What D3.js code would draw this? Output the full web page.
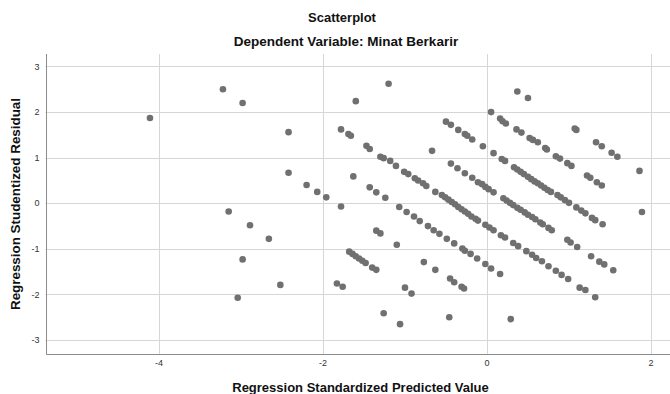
<!DOCTYPE html>
<html>
<head>
<meta charset="utf-8">
<script src="https://cdn.jsdelivr.net/npm/d3@7"></script>
<style>
    body { margin: 0; background: #fff; }
    svg { display: block; font-family: "Liberation Sans", Arial, sans-serif; }
</style>
</head>
<body>
<div class="scatterChart"></div>
<script>
    // standardized predicted value (x) and studentized residual (y)
    const predValue = [
        -4.11, -3.22, -2.98, -2.42, -2.42, -2.20, -2.07, -1.96, -1.78, -3.15,
        -2.89, -2.66, -2.98, -2.52, -1.83, -1.76, -3.04, -1.78, -1.69, -1.66,
        -1.60, -1.20, -1.47, -1.43, -1.63, -1.43, -1.35, -1.24, -0.67,
        // long diagonal band
        -1.30, -1.26, -1.18, -1.11, -1.01, -0.96, -0.88, -0.84, -0.78, -0.74,
        -0.63, -0.55, -0.51, -0.47, -0.43, -0.39, -0.35, -0.31, -0.27, -0.23,
        -0.19, -0.14, -0.11, -0.02, 0.03, 0.08, 0.17, 0.22, 0.32, 0.38,
        0.48, 0.55, 0.60, 0.67, 0.75, 0.84, 0.91, 0.99,
        -0.44, -0.36, -0.27, -0.18, -0.11, -0.06, -0.02, 0.02, 0.08, 0.20,
        0.24, 0.28, 0.32, 0.37, 0.41, 0.46, 0.50, 0.55, 0.59, 0.65,
        0.68, 0.75, 0.79, 0.98, 1.02, 1.10,
        -0.50, -0.44, -0.35, -0.27, -0.24, -0.18, -0.05, 0.08, 0.18, 0.22,
        0.33, 0.37, 0.41, 0.45, 0.50, 0.54, 0.58, 0.62, 0.66, 0.70,
        0.74, 0.78, 0.86, 0.90, 0.95, 1.00, 1.09, 1.15, 1.20, 1.28,
        1.32, 1.41,
        0.05, 0.16, 0.19, 0.23, 0.36, 0.42, 0.52, 0.56, 0.62, 0.71,
        0.73, 0.84, 0.89, 0.98, 1.03, 1.22, 1.26, 1.34, 1.40,
        -1.07, -0.98, -0.89, -0.82, -0.72, -0.65, -0.58, -0.49, -0.40, -0.30,
        -0.27, -0.20, -0.12, -0.02, 0.05, 0.16,
        -1.68, -1.64, -1.60, -1.56, -1.52, -1.48, -1.40, -1.35,
        // loose points
        -1.35, -1.30, -1.10, -0.77, -0.63, -0.45, -0.40, -0.31, -0.28, -1.00,
        -0.92, -1.26, -1.06, -0.46, 0.29, 0.37, 0.50, 1.07, 1.09, 1.33,
        1.40, 1.52, 1.59, 1.86, 1.89, 1.27, 1.37, 1.43, 1.54, 1.13,
        1.20, 1.32
    ]

    const studResid = [
        1.87, 2.50, 2.20, 1.56, 0.67, 0.40, 0.25, 0.13, -0.07, -0.18,
        -0.48, -0.78, -1.23, -1.79, -1.76, -1.83, -2.07, 1.62, 1.52, 1.48,
        2.24, 2.62, 1.26, 1.19, 0.59, 0.35, 0.24, 0.12, 1.15,
        1.02, 0.99, 0.93, 0.82, 0.69, 0.64, 0.55, 0.50, 0.44, 0.38,
        0.25, 0.18, 0.13, 0.08, 0.03, -0.02, -0.08, -0.13, -0.18, -0.23,
        -0.29, -0.34, -0.38, -0.47, -0.53, -0.59, -0.70, -0.75, -0.87, -0.94,
        -1.05, -1.13, -1.20, -1.27, -1.38, -1.48, -1.57, -1.66,
        0.87, 0.77, 0.66, 0.56, 0.46, 0.42, 0.36, 0.31, 0.24, 0.11,
        0.06, 0.01, -0.04, -0.10, -0.14, -0.20, -0.25, -0.30, -0.35, -0.42,
        -0.46, -0.54, -0.59, -0.80, -0.86, -0.96,
        1.79, 1.72, 1.61, 1.52, 1.48, 1.40, 1.25, 1.10, 0.97, 0.93,
        0.79, 0.74, 0.69, 0.64, 0.58, 0.53, 0.48, 0.44, 0.39, 0.34,
        0.29, 0.25, 0.18, 0.13, 0.07, 0.01, -0.09, -0.16, -0.22, -0.32,
        -0.37, -0.46,
        2.00, 1.86, 1.80, 1.75, 1.62, 1.55, 1.43, 1.39, 1.34, 1.21,
        1.18, 1.03, 0.98, 0.88, 0.82, 0.61, 0.56, 0.46, 0.39,
        -0.08, -0.19, -0.29, -0.39, -0.50, -0.59, -0.67, -0.78, -0.88, -0.99,
        -1.04, -1.11, -1.21, -1.33, -1.43, -1.55,
        -1.06, -1.11, -1.16, -1.21, -1.26, -1.31, -1.41, -1.46,
        -0.60, -0.66, -0.91, -1.29, -1.46, -1.65, -1.73, -1.83, -1.87, -1.85,
        -1.98, -2.41, -2.65, -2.50, -2.54, 2.45, 2.31, 1.64, 1.61, 1.34,
        1.25, 1.11, 1.02, 0.71, -0.19, -1.16, -1.28, -1.34, -1.47, -1.85,
        -1.90, -2.06
    ]

    const xTicks = [-4, -2, 0, 2]
    const yTicks = [-3, -2, -1, 0, 1, 2, 3]

    const chartTitle = "Scatterplot"
    const chartSubtitle = "Dependent Variable: Minat Berkarir"
    const xLabel = "Regression Standardized Predicted Value"
    const yLabel = "Regression Studentized Residual"

    const width = 670, height = 394
    const margin = { top: 54, right: 0, bottom: 40, left: 45.5 }

    const points = predValue.map((v, i) => ({ x: v, y: studResid[i] }))

    const x = d3.scaleLinear()
        .domain([-5.384, 2.232])
        .range([margin.left, width - margin.right])

    const y = d3.scaleLinear()
        .domain([-3.305, 3.274])
        .range([height - margin.bottom, margin.top])

    const crisp = v => Math.round(v) + 0.5

    const svg = d3.select(".scatterChart")
        .append("svg")
        .attr("width", width)
        .attr("height", height)

    // grid
    svg.append("g")
        .attr("stroke", "#d6d6d6")
        .attr("stroke-width", 1)
        .call(g => g.selectAll(".v-grid")
            .data(xTicks)
            .join("line")
            .attr("class", "v-grid")
            .attr("x1", d => crisp(x(d)))
            .attr("x2", d => crisp(x(d)))
            .attr("y1", margin.top)
            .attr("y2", height - margin.bottom))
        .call(g => g.selectAll(".h-grid")
            .data(yTicks)
            .join("line")
            .attr("class", "h-grid")
            .attr("x1", margin.left)
            .attr("x2", width - margin.right)
            .attr("y1", d => crisp(y(d)))
            .attr("y2", d => crisp(y(d))))

    // axis lines, left and bottom only
    svg.append("path")
        .attr("fill", "none")
        .attr("stroke", "#8c8c8c")
        .attr("d", `M${crisp(margin.left)},${margin.top}V${crisp(height - margin.bottom)}H${width}`)

    // tick labels
    svg.append("g")
        .attr("font-size", 9)
        .attr("fill", "#333")
        .attr("text-anchor", "middle")
        .selectAll("text")
        .data(xTicks)
        .join("text")
        .attr("x", d => x(d))
        .attr("y", height - margin.bottom + 12)
        .text(d => d)

    svg.append("g")
        .attr("font-size", 9)
        .attr("fill", "#333")
        .attr("text-anchor", "end")
        .selectAll("text")
        .data(yTicks)
        .join("text")
        .attr("x", 39.5)
        .attr("y", d => y(d))
        .attr("dy", "0.35em")
        .text(d => d)

    // points
    svg.append("g")
        .attr("fill", "#707070")
        .selectAll("circle")
        .data(points)
        .join("circle")
        .attr("cx", d => x(d.x))
        .attr("cy", d => y(d.y))
        .attr("r", 3.3)

    // titles
    svg.append("text")
        .attr("x", 342)
        .attr("y", 21.5)
        .attr("text-anchor", "middle")
        .attr("font-size", 13)
        .attr("font-weight", "bold")
        .attr("fill", "#111")
        .text(chartTitle)

    svg.append("text")
        .attr("x", 346)
        .attr("y", 45.5)
        .attr("text-anchor", "middle")
        .attr("font-size", 13.5)
        .attr("font-weight", "bold")
        .attr("fill", "#111")
        .text(chartSubtitle)

    svg.append("text")
        .attr("x", 360.5)
        .attr("y", 391.5)
        .attr("text-anchor", "middle")
        .attr("font-size", 13)
        .attr("font-weight", "bold")
        .attr("fill", "#111")
        .text(xLabel)

    svg.append("text")
        .attr("transform", `translate(19.5, 204) rotate(-90)`)
        .attr("text-anchor", "middle")
        .attr("font-size", 13.4)
        .attr("font-weight", "bold")
        .attr("fill", "#111")
        .text(yLabel)
</script>
</body>
</html>
